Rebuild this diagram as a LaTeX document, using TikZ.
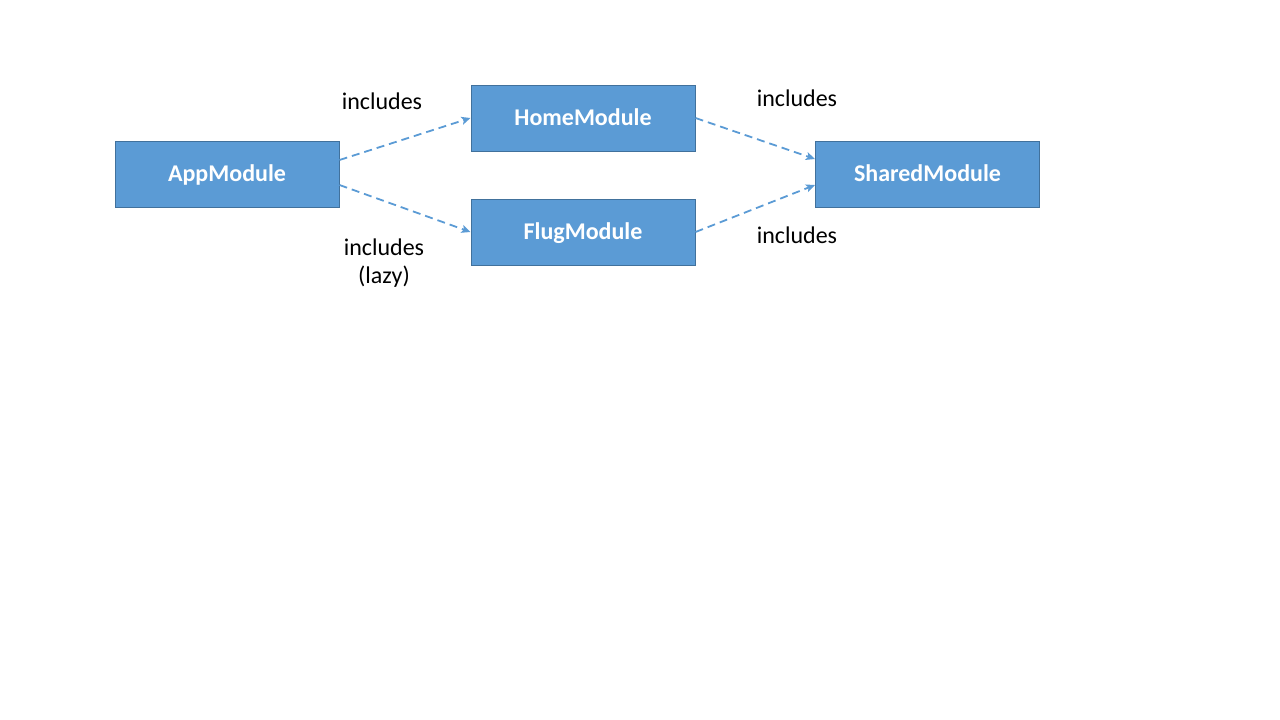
\documentclass[tikz,border=0pt]{standalone}
\usepackage{fontspec}
\setmainfont{Carlito}
\usetikzlibrary{arrows.meta}
\definecolor{boxfill}{HTML}{5B9BD5}
\definecolor{boxline}{HTML}{41719C}
\tikzset{
  modbox/.style={draw=boxline, line width=1pt, fill=boxfill, minimum width=224pt, minimum height=66pt,
    inner sep=0pt, text=white, text height=15pt, text depth=0pt, font=\fontsize{24}{28}\selectfont\bfseries},
  dep/.style={draw=boxfill, line width=1.8pt, dash pattern=on 8pt off 5pt,
    -{Stealth[length=9pt,width=8pt,inset=2pt]}},
  lbl/.style={font=\fontsize{24}{28}\selectfont, text=black, align=center, inner sep=0pt}
}
\begin{document}
\begin{tikzpicture}[x=1pt,y=-1pt]
\useasboundingbox (0,0) rectangle (1280,720);
\node[modbox] (app) at (227,174) {AppModule};
\node[modbox] (home) at (583,118) {HomeModule};
\node[modbox] (flug) at (583,232) {FlugModule};
\node[modbox] (shared) at (927.5,174) {SharedModule};
\draw[dep] ([yshift=14pt]app.east) -- (home.west);
\draw[dep] ([yshift=-11pt]app.east) -- (flug.west);
\draw[dep] (home.east) -- ([yshift=15pt]shared.west);
\draw[dep] (flug.east) -- ([yshift=-11pt]shared.west);
\node[lbl, anchor=base] (l1) at (382,109.7) {includes};
\node[lbl] (l2) at (384,263) {includes\\(lazy)};
\node[lbl, anchor=base] (l3) at (797,106.7) {includes};
\node[lbl, anchor=base] (l4) at (797,243.7) {includes};
\end{tikzpicture}
\end{document}
